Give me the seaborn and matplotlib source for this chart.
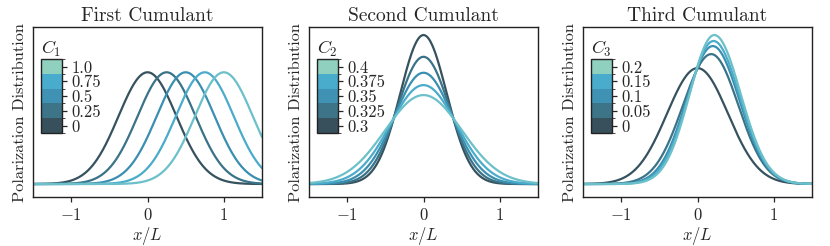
import numpy as np
import pandas as pd
import seaborn as sns
import matplotlib
matplotlib.use('Agg')
import matplotlib.pyplot as plt
from matplotlib.colors import ListedColormap, BoundaryNorm
from matplotlib.cm import ScalarMappable

# cumulant values shown in the three colour bars
c1_values = [0, 0.25, 0.5, 0.75, 1.0]
c2_values = [0.3, 0.325, 0.35, 0.375, 0.4]
c3_values = [0, 0.05, 0.1, 0.15, 0.2]
c1_labels = ['0', '0.25', '0.5', '0.75', '1.0']
c2_labels = ['0.3', '0.325', '0.35', '0.375', '0.4']
c3_labels = ['0', '0.05', '0.1', '0.15', '0.2']

# curve shapes: peak position, left / right width, peak height
first_peaks = [0, 0.25, 0.5, 0.75, 1.0]
first_left = [0.38, 0.38, 0.38, 0.38, 0.38]
first_right = [0.38, 0.38, 0.38, 0.38, 0.38]
first_heights = [0.75, 0.75, 0.75, 0.75, 0.75]

second_peaks = [0, 0, 0, 0, 0]
second_left = [0.305, 0.339, 0.38, 0.431, 0.501]
second_right = [0.305, 0.339, 0.38, 0.431, 0.501]
second_heights = [1.0, 0.854, 0.747, 0.664, 0.597]

third_peaks = [0, 0.18, 0.2, 0.21, 0.22]
third_left = [0.40, 0.37, 0.345, 0.333, 0.322]
third_right = [0.40, 0.355, 0.35, 0.347, 0.345]
third_heights = [0.778, 0.872, 0.926, 0.96, 1.0]

line_colors = ['#36525e', '#3a7387', '#3a8fb0', '#4aabcb', '#6cc0ca']
bar_colors = ['#37505b', '#3e7488', '#3f92b3', '#4aaccd', '#8fd0bf']

sns.set_style('ticks')
plt.rcParams['font.family'] = 'serif'
plt.rcParams['font.serif'] = ['cmr10']
plt.rcParams['mathtext.fontset'] = 'cm'
plt.rcParams['axes.formatter.use_mathtext'] = True
plt.rcParams['axes.edgecolor'] = '#222222'
plt.rcParams['axes.linewidth'] = 1.0


def curves(values, peaks, left, right, heights):
    x = np.linspace(-1.5, 1.5, 401)
    rows = []
    for v, p, wl, wr, h in zip(values, peaks, left, right, heights):
        w = np.where(x < p, wl, wr)
        y = h * np.exp(-(x - p) ** 2 / (2 * w ** 2))
        rows.append(pd.DataFrame({'x': x, 'y': y, 'value': str(v)}))
    return pd.concat(rows, ignore_index=True)


panels = [
    ('First Cumulant', '$C_1$', c1_values, c1_labels,
     curves(c1_values, first_peaks, first_left, first_right, first_heights)),
    ('Second Cumulant', '$C_2$', c2_values, c2_labels,
     curves(c2_values, second_peaks, second_left, second_right, second_heights)),
    ('Third Cumulant', '$C_3$', c3_values, c3_labels,
     curves(c3_values, third_peaks, third_left, third_right, third_heights)),
]

fig = plt.figure(figsize=(8.3, 2.46), dpi=100)
lefts = [33 / 830, 309 / 830, 583 / 830]

for left, (title, cname, values, labels, data) in zip(lefts, panels):
    ax = fig.add_axes([left, 49 / 246, 229 / 830, 170 / 246])
    sns.lineplot(data=data, x='x', y='y', hue='value',
                 hue_order=[str(v) for v in values], palette=line_colors,
                 linewidth=1.6, legend=False, ax=ax)
    ax.set_xlim(-1.5, 1.5)
    ax.set_ylim(-0.087, 1.054)
    ax.set_xticks([-1, 0, 1])
    ax.set_yticks([])
    ax.tick_params(axis='x', labelsize=12, length=3.5, width=0.9, pad=4)
    ax.set_xlabel('$x/L$', fontsize=12, labelpad=1)
    ax.set_ylabel('Polarization Distribution', fontsize=11.8, labelpad=4)
    ax.set_title(title, fontsize=14, pad=4)

    cax = ax.inset_axes([0.035, 0.376, 0.092, 0.435])
    step = values[1] - values[0]
    bounds = [values[0] - step / 2] + [v + step / 2 for v in values]
    norm = BoundaryNorm(bounds, len(values))
    sm = ScalarMappable(norm=norm, cmap=ListedColormap(bar_colors))
    cb = fig.colorbar(sm, cax=cax, ticks=values)
    cb.ax.set_yticklabels(labels)
    cb.ax.tick_params(labelsize=12, length=3.5, width=0.9, pad=3)
    cb.outline.set_linewidth(1.0)
    cax.set_title(cname, fontsize=13, loc='left', pad=3)

fig.savefig('out.png', dpi=100)
